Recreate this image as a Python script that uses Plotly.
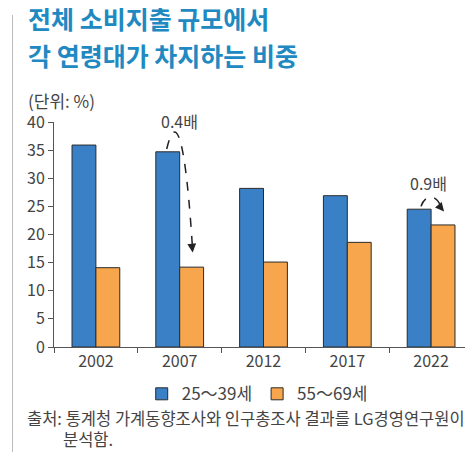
import plotly.graph_objects as go

# share of total consumer spending by age group (%)
years = ["2002", "2007", "2012", "2017", "2022"]
young = [35.9, 34.7, 28.2, 26.9, 24.5]   # 25~39세
senior = [14.1, 14.2, 15.1, 18.6, 21.7]  # 55~69세
series_names = ["25～39세", "55～69세"]
ratio_labels = ["0.4배", "0.9배"]
ratio_idx = [1, 4]

title_lines = ["전체 소비지출 규모에서", "각 연령대가 차지하는 비중"]
unit_text = "(단위: %)"
source_lines = ["출처: 통계청 가계동향조사와 인구총조사 결과를 LG경영연구원이", "분석함."]

FONT = "Noto Sans CJK KR"
BLUE = "#3a80c6"
ORANGE = "#f7a64e"
TITLE_BLUE = "#2189c2"
TXT = "#444444"
YMAX = 40

fig = go.Figure()
fig.add_trace(go.Bar(x=years, y=young, name=series_names[0],
                     marker=dict(color=BLUE, line=dict(color="#2a2a2a", width=1))))
fig.add_trace(go.Bar(x=years, y=senior, name=series_names[1],
                     marker=dict(color=ORANGE, line=dict(color="#2a2a2a", width=1))))

# dashed curved arrows from the blue bar top to the orange bar top
shapes = []
annotations = []
for label, i in zip(ratio_labels, ratio_idx):
    b, o = young[i], senior[i]
    if i == 1:
        p0 = (i - 0.155, b + 0.5)
        c1 = (i - 0.07, b + 5.8)
        c2 = (i + 0.05, b + 6.3)
        p1 = (i + 0.15, o + 4.0)
        tip = (i + 0.155, o + 2.6)
        ax, ay = -1, -9
        ty = 40.1
        tx = i
    else:
        p0 = (i - 0.12, b + 0.5)
        c1 = (i - 0.08, b + 2.5)
        c2 = (i + 0.06, b + 3.0)
        p1 = (i + 0.12, o + 3.1)
        tip = (i + 0.155, o + 2.4)
        ax, ay = -6, -7
        ty = 29.2
        tx = i - 0.03
    path = "M {},{} C {},{} {},{} {},{}".format(p0[0], p0[1], c1[0], c1[1], c2[0], c2[1], p1[0], p1[1])
    shapes.append(dict(type="path", path=path, xref="x", yref="y",
                       line=dict(color="#222222", width=1.5, dash="dash")))
    annotations.append(dict(x=tip[0], y=tip[1], xref="x", yref="y", ax=ax, ay=ay,
                            text="", showarrow=True, arrowhead=2, arrowsize=1.1,
                            arrowwidth=1.6, arrowcolor="#222222"))
    annotations.append(dict(x=tx, y=ty / YMAX, xref="x", yref="paper", text=label, showarrow=False,
                            font=dict(family=FONT, size=16, color=TXT),
                            xanchor="center", yanchor="middle"))

# left grey rule of the page (a blank annotation box, drawn in the left margin)
annotations.append(dict(x=-0.098, y=0.5, xref="paper", yref="paper", text=" ", showarrow=False,
                        xanchor="center", yanchor="middle", width=1, height=440,
                        bgcolor="#bcbcbc", borderpad=0, borderwidth=0))

annotations.append(dict(x=-0.064, y=1.462, xref="paper", yref="paper", text="<b>" + title_lines[0] + "</b>",
                        showarrow=False, xanchor="left", yanchor="middle", borderpad=0,
                        font=dict(family=FONT, size=25, color=TITLE_BLUE)))
annotations.append(dict(x=-0.064, y=1.298, xref="paper", yref="paper", text="<b>" + title_lines[1] + "</b>",
                        showarrow=False, xanchor="left", yanchor="middle", borderpad=0,
                        font=dict(family=FONT, size=25, color=TITLE_BLUE)))
annotations.append(dict(x=-0.066, y=1.095, xref="paper", yref="paper", text=unit_text,
                        showarrow=False, xanchor="left", yanchor="middle",
                        font=dict(family=FONT, size=17, color=TXT)))
annotations.append(dict(x=-0.07, y=-0.314, xref="paper", yref="paper", text=source_lines[0],
                        showarrow=False, xanchor="left", yanchor="middle",
                        font=dict(family=FONT, size=16.5, color=TXT)))
annotations.append(dict(x=0.016, y=-0.41, xref="paper", yref="paper", text=source_lines[1],
                        showarrow=False, xanchor="left", yanchor="middle",
                        font=dict(family=FONT, size=16.5, color=TXT)))

# the page body adds an 8px offset, so the figure is sized to fill what remains
fig.update_layout(
    width=465, height=444,
    margin=dict(l=46, r=0, t=114, b=105),
    paper_bgcolor="white", plot_bgcolor="white",
    barmode="group", bargap=0.43, bargroupgap=0,
    font=dict(family=FONT, size=16, color=TXT),
    shapes=shapes, annotations=annotations,
    legend=dict(orientation="h", x=0.485, xanchor="center", y=-0.21, yanchor="middle",
                font=dict(family=FONT, size=17, color=TXT), itemwidth=30),
)
fig.update_xaxes(type="category", tickson="boundaries", ticks="outside", ticklen=5,
                 tickcolor="#555555", showline=True, linecolor="#555555", linewidth=1,
                 showgrid=False, tickfont=dict(size=16, color=TXT))
fig.update_yaxes(range=[0, YMAX], dtick=5, ticks="outside", ticklen=5, tickcolor="#555555",
                 showline=True, linecolor="#555555", linewidth=1, showgrid=False, zeroline=False,
                 tickfont=dict(size=16, color=TXT))

fig.write_html("out.html")
